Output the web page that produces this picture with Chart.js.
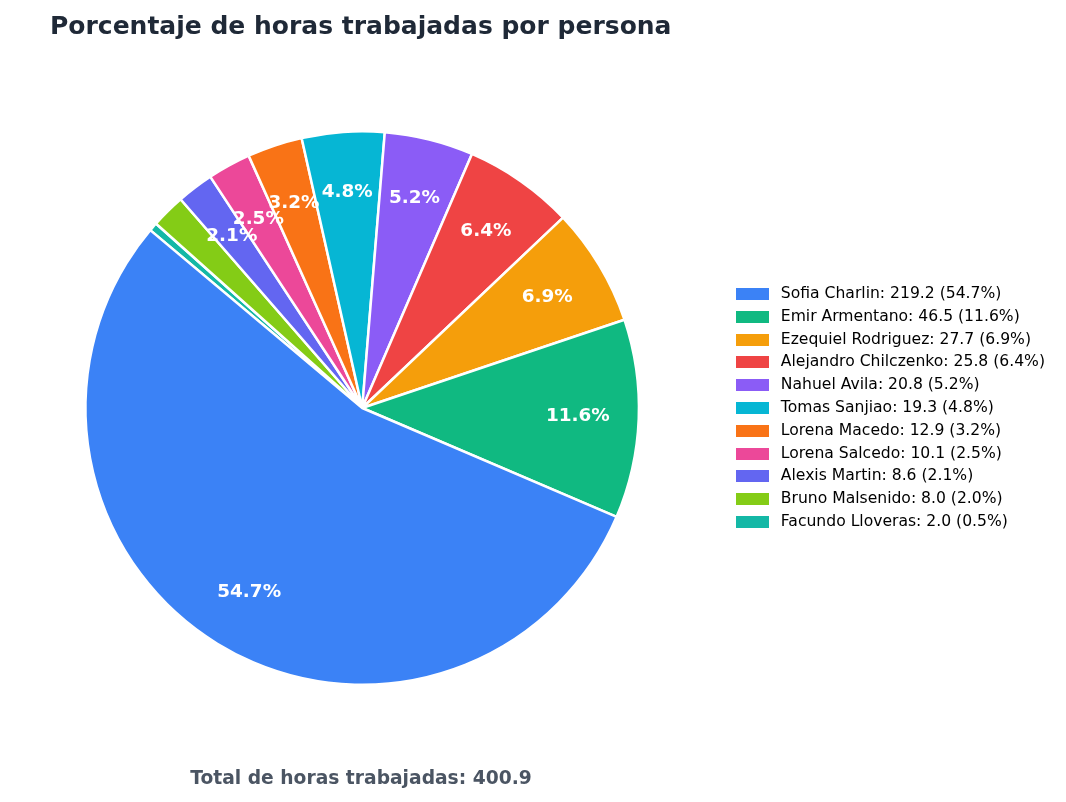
<!DOCTYPE html>
<html>
<head>
<meta charset="utf-8">
<script src="https://cdn.jsdelivr.net/npm/chart.js@4.4.0/dist/chart.umd.min.js"></script>
<style>
    body { margin: 0; background: #fff; }
    #wrap { position: relative; width: 1066px; height: 802px; }
    #title {
        position: absolute; left: 50px; top: 11px;
        font-family: "DejaVu Sans", sans-serif; font-weight: bold;
        font-size: 25px; color: #1f2937; white-space: nowrap;
    }
    #total {
        position: absolute; left: 0; width: 722px; top: 767px; text-align: center;
        font-family: "DejaVu Sans", sans-serif; font-weight: bold;
        font-size: 18.7px; color: #4b5563;
    }
</style>
</head>
<body>
<div id="wrap">
    <div id="title">Porcentaje de horas trabajadas por persona</div>
    <canvas id="myPieChart" width="1066" height="802"></canvas>
    <div id="total"></div>
</div>
<script>
var names = ['Sofia Charlin', 'Emir Armentano', 'Ezequiel Rodriguez', 'Alejandro Chilczenko',
    'Nahuel Avila', 'Tomas Sanjiao', 'Lorena Macedo', 'Lorena Salcedo', 'Alexis Martin',
    'Bruno Malsenido', 'Facundo Lloveras'];
var hours = [219.2, 46.5, 27.7, 25.8, 20.8, 19.3, 12.9, 10.1, 8.6, 8.0, 2.0];
var colors = ['#3b82f6', '#10b981', '#f59e0b', '#ef4444', '#8b5cf6', '#06b6d4',
    '#f97316', '#ec4899', '#6366f1', '#84cc16', '#14b8a6'];

var total = hours.reduce(function (a, b) { return a + b; }, 0);
var pcts = hours.map(function (h) { return h / total * 100; });
var labels = names.map(function (n, i) {
    return n + ': ' + hours[i].toFixed(1) + ' (' + pcts[i].toFixed(1) + '%)';
});

document.getElementById('total').textContent = 'Total de horas trabajadas: ' + total.toFixed(1);

// chart.js goes clockwise, the original goes counter-clockwise -> feed it reversed
var rev = function (arr) { return arr.slice().reverse(); };

// little coloured rectangle used as legend marker (gives a wider gap before the text)
function swatch(color) {
    var c = document.createElement('canvas');
    c.width = 33;
    c.height = 12;
    var g = c.getContext('2d');
    g.fillStyle = color;
    g.fillRect(0, 0, 33, 12);
    return c;
}

// percentage labels inside the slices
var pctLabels = {
    id: 'pctLabels',
    afterDatasetsDraw: function (chart) {
        var ctx = chart.ctx;
        var meta = chart.getDatasetMeta(0);
        var vals = rev(pcts);
        ctx.save();
        ctx.fillStyle = '#ffffff';
        ctx.font = 'bold 18.4px "DejaVu Sans"';
        ctx.textAlign = 'center';
        ctx.textBaseline = 'middle';
        meta.data.forEach(function (arc, i) {
            if (vals[i] <= 2.0) return;
            var mid = (arc.startAngle + arc.endAngle) / 2;
            var r = arc.outerRadius * 0.78;
            ctx.fillText(vals[i].toFixed(1) + '%', arc.x + Math.cos(mid) * r, arc.y + Math.sin(mid) * r);
        });
        ctx.restore();
    }
};

var ctx = document.getElementById('myPieChart').getContext('2d');

var myPieChart = new Chart(ctx, {
    type: 'pie',
    data: {
        labels: rev(labels),
        datasets: [{
            data: rev(hours),
            backgroundColor: rev(colors),
            borderColor: '#ffffff',
            borderWidth: 2.5,
            hoverOffset: 0
        }]
    },
    options: {
        responsive: false,
        animation: false,
        rotation: -50,
        layout: {
            padding: { top: 130, bottom: 116, left: 0, right: 11 }
        },
        plugins: {
            legend: {
                position: 'right',
                reverse: true,
                labels: {
                    usePointStyle: true,
                    pointStyleWidth: 41.4,
                    boxHeight: 12,
                    padding: 7.2,
                    color: '#1a1a1a',
                    font: { family: 'DejaVu Sans', size: 15.6 },
                    generateLabels: function (chart) {
                        var bg = chart.data.datasets[0].backgroundColor;
                        return chart.data.labels.map(function (t, i) {
                            return {
                                text: t,
                                fillStyle: bg[i],
                                strokeStyle: bg[i],
                                lineWidth: 0,
                                pointStyle: swatch(bg[i]),
                                hidden: false,
                                index: i
                            };
                        });
                    }
                }
            },
            tooltip: { enabled: false }
        }
    },
    plugins: [pctLabels]
});
</script>
</body>
</html>
